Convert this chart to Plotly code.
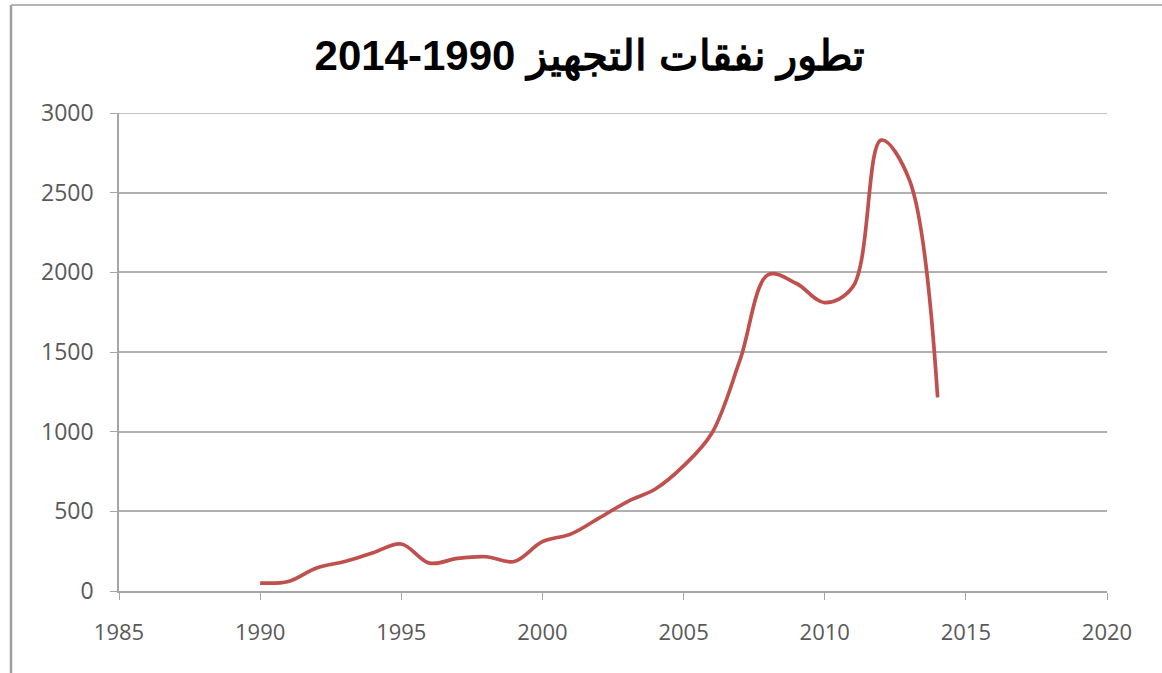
import plotly.graph_objects as go

years = list(range(1990, 2015))
values = [50, 60, 145, 185, 240, 295, 175, 205, 215, 185, 310, 357, 457, 560, 640, 785, 990, 1450, 1985, 1930, 1810, 1910, 2830, 2580, 1215]

title_text = "تطور نفقات التجهيز 1990-2014"
x_ticks = [1985, 1990, 1995, 2000, 2005, 2010, 2015, 2020]
y_ticks = [0, 500, 1000, 1500, 2000, 2500, 3000]

fig = go.Figure()
fig.add_trace(go.Scatter(
    x=years, y=values, mode="lines",
    line=dict(color="#C0504D", width=3.7, shape="spline", smoothing=1.0),
    showlegend=False, hoverinfo="x+y",
))

L, R, T, B = 119, 55, 113, 82
W, H = 1162, 673
pw, ph = W - L - R, H - T - B
top_y = (H - B - 5) / ph
left_x = (11 - L) / pw

fig.update_layout(
    width=W, height=H,
    margin=dict(l=L, r=R, t=T, b=B, pad=0),
    paper_bgcolor="white", plot_bgcolor="white",
    title=dict(text="<b>" + title_text + "</b>", x=590 / W, xanchor="center",
               y=1 - 55 / H, yanchor="middle", yref="container", xref="container",
               font=dict(family="Liberation Sans, Arial, sans-serif", size=42, color="black")),
    xaxis=dict(range=[1985, 2020], tickvals=x_ticks, showgrid=False, zeroline=False,
               showline=True, linecolor="#A6A6A6", linewidth=1.5,
               ticks="outside", ticklen=7, tickcolor="#A6A6A6", ticklabelstandoff=14,
               tickfont=dict(family="Open Sans, sans-serif", size=22, color="#595959")),
    yaxis=dict(range=[0, 3000], tickvals=y_ticks, showgrid=True, gridcolor="#B0B0B0", gridwidth=1.5,
               zeroline=False, showline=True, linecolor="#A6A6A6", linewidth=1.5,
               ticks="outside", ticklen=7, tickcolor="#A6A6A6", ticklabelstandoff=12,
               tickfont=dict(family="Open Sans, sans-serif", size=23, color="#595959")),
    shapes=[
        dict(type="line", xref="paper", yref="y", x0=0, x1=1, y0=y_ticks[-1], y1=y_ticks[-1],
             line=dict(color="#B0B0B0", width=1.5), layer="below"),
        dict(type="line", xref="paper", yref="paper",
             x0=left_x, x1=left_x, y0=-B / ph, y1=top_y,
             line=dict(color="#A0A0A0", width=2.5)),
        dict(type="line", xref="paper", yref="paper",
             x0=left_x, x1=(W - L) / pw, y0=top_y, y1=top_y,
             line=dict(color="#B4B4B4", width=2)),
    ],
)

fig.write_html("out.html")
